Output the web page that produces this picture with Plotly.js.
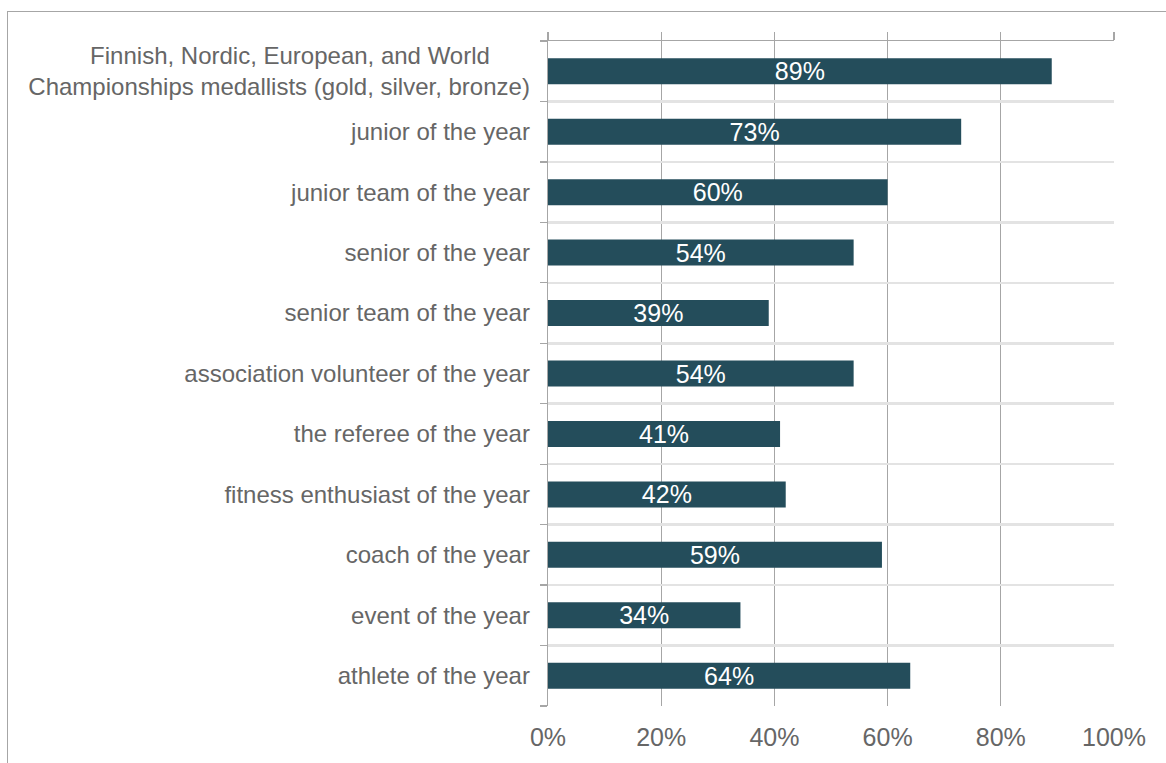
<!DOCTYPE html>
<html>
<head>
<meta charset="utf-8">
<script src="https://cdn.plot.ly/plotly-3.0.1.min.js"></script>
<style>
  html, body { margin: 0; padding: 0; background: #fff; }
  #wrap { position: relative; width: 1166px; height: 763px; overflow: hidden; }
  #chart { position: absolute; left: 0; top: 0; width: 1166px; height: 763px; }
  #frame { position: absolute; left: 7px; top: 11px; width: 1200px; height: 800px;
           border-left: 1.5px solid #a6a6a6; border-top: 1.5px solid #a6a6a6; pointer-events: none; }
</style>
</head>
<body>
<div id="wrap">
  <div id="chart"></div>
  <div id="frame"></div>
</div>
<script>
const categories = [
  "Finnish, Nordic, European, and World<br>Championships medallists (gold, silver, bronze)",
  "junior of the year",
  "junior team of the year",
  "senior of the year",
  "senior team of the year",
  "association volunteer of the year",
  "the referee of the year",
  "fitness enthusiast of the year",
  "coach of the year",
  "event of the year",
  "athlete of the year"
];
const values = [89, 73, 60, 54, 39, 54, 41, 42, 59, 34, 64];
const xTickVals = [0, 20, 40, 60, 80, 100];
const xTickText = ["0%", "20%", "40%", "60%", "80%", "100%"];

// display labels: pad first line of wrapped label so lines look centred
const NBSP = "\u00a0";
const tickText = categories.map(c => {
  const parts = c.split("<br>");
  if (parts.length < 2) return c;
  return parts[0] + NBSP.repeat(6) + "<br>" + parts[1];
});

const font = "'Liberation Sans', Arial, sans-serif";
const textCol = "#666666";
const gridDark = "#a6a6a6";
const gridLight = "#e3e3e3";

const trace = {
  type: "bar",
  orientation: "h",
  y: categories,
  x: values,
  width: 0.43,
  marker: { color: "#244d5b", line: { width: 0 } },
  text: values.map(v => v + "%"),
  textposition: "inside",
  insidetextanchor: "middle",
  constraintext: "none",
  textfont: { family: font, size: 25, color: "#ffffff" },
  hoverinfo: "none",
  cliponaxis: false
};

const layout = {
  width: 1166,
  height: 763,
  margin: { l: 548, r: 52, t: 41, b: 57, pad: 0 },
  paper_bgcolor: "rgba(0,0,0,0)",
  plot_bgcolor: "rgba(0,0,0,0)",
  showlegend: false,
  font: { family: font, color: textCol },
  xaxis: {
    range: [0, 100],
    tickvals: xTickVals,
    ticktext: xTickText,
    showgrid: true,
    gridcolor: gridDark,
    gridwidth: 1.3,
    zeroline: false,
    showline: false,
    ticks: "",
    tickfont: { family: font, size: 25, color: textCol },
    ticklabelstandoff: 14,
    fixedrange: true
  },
  xaxis2: {
    overlaying: "x",
    side: "top",
    range: [0, 100],
    tickvals: xTickVals,
    showticklabels: false,
    ticks: "outside",
    ticklen: 8,
    tickwidth: 1.3,
    tickcolor: gridDark,
    showline: true,
    linecolor: gridDark,
    linewidth: 1.3,
    showgrid: false,
    zeroline: false
  },
  yaxis: {
    type: "category",
    autorange: "reversed",
    tickvals: categories,
    ticktext: tickText,
    tickson: "boundaries",
    ticks: "outside",
    ticklen: 7,
    tickwidth: 1.3,
    tickcolor: gridDark,
    showline: true,
    linecolor: gridDark,
    linewidth: 1.3,
    showgrid: true,
    gridcolor: gridLight,
    gridwidth: 2.5,
    tickfont: { family: font, size: 24, color: textCol },
    ticklabelstandoff: 12,
    fixedrange: true
  }
};

const dummy = { type: "scatter", x: [], y: [], xaxis: "x2", yaxis: "y", hoverinfo: "none" };

Plotly.newPlot("chart", [trace, dummy], layout, { staticPlot: true, displayModeBar: false });
</script>
</body>
</html>
